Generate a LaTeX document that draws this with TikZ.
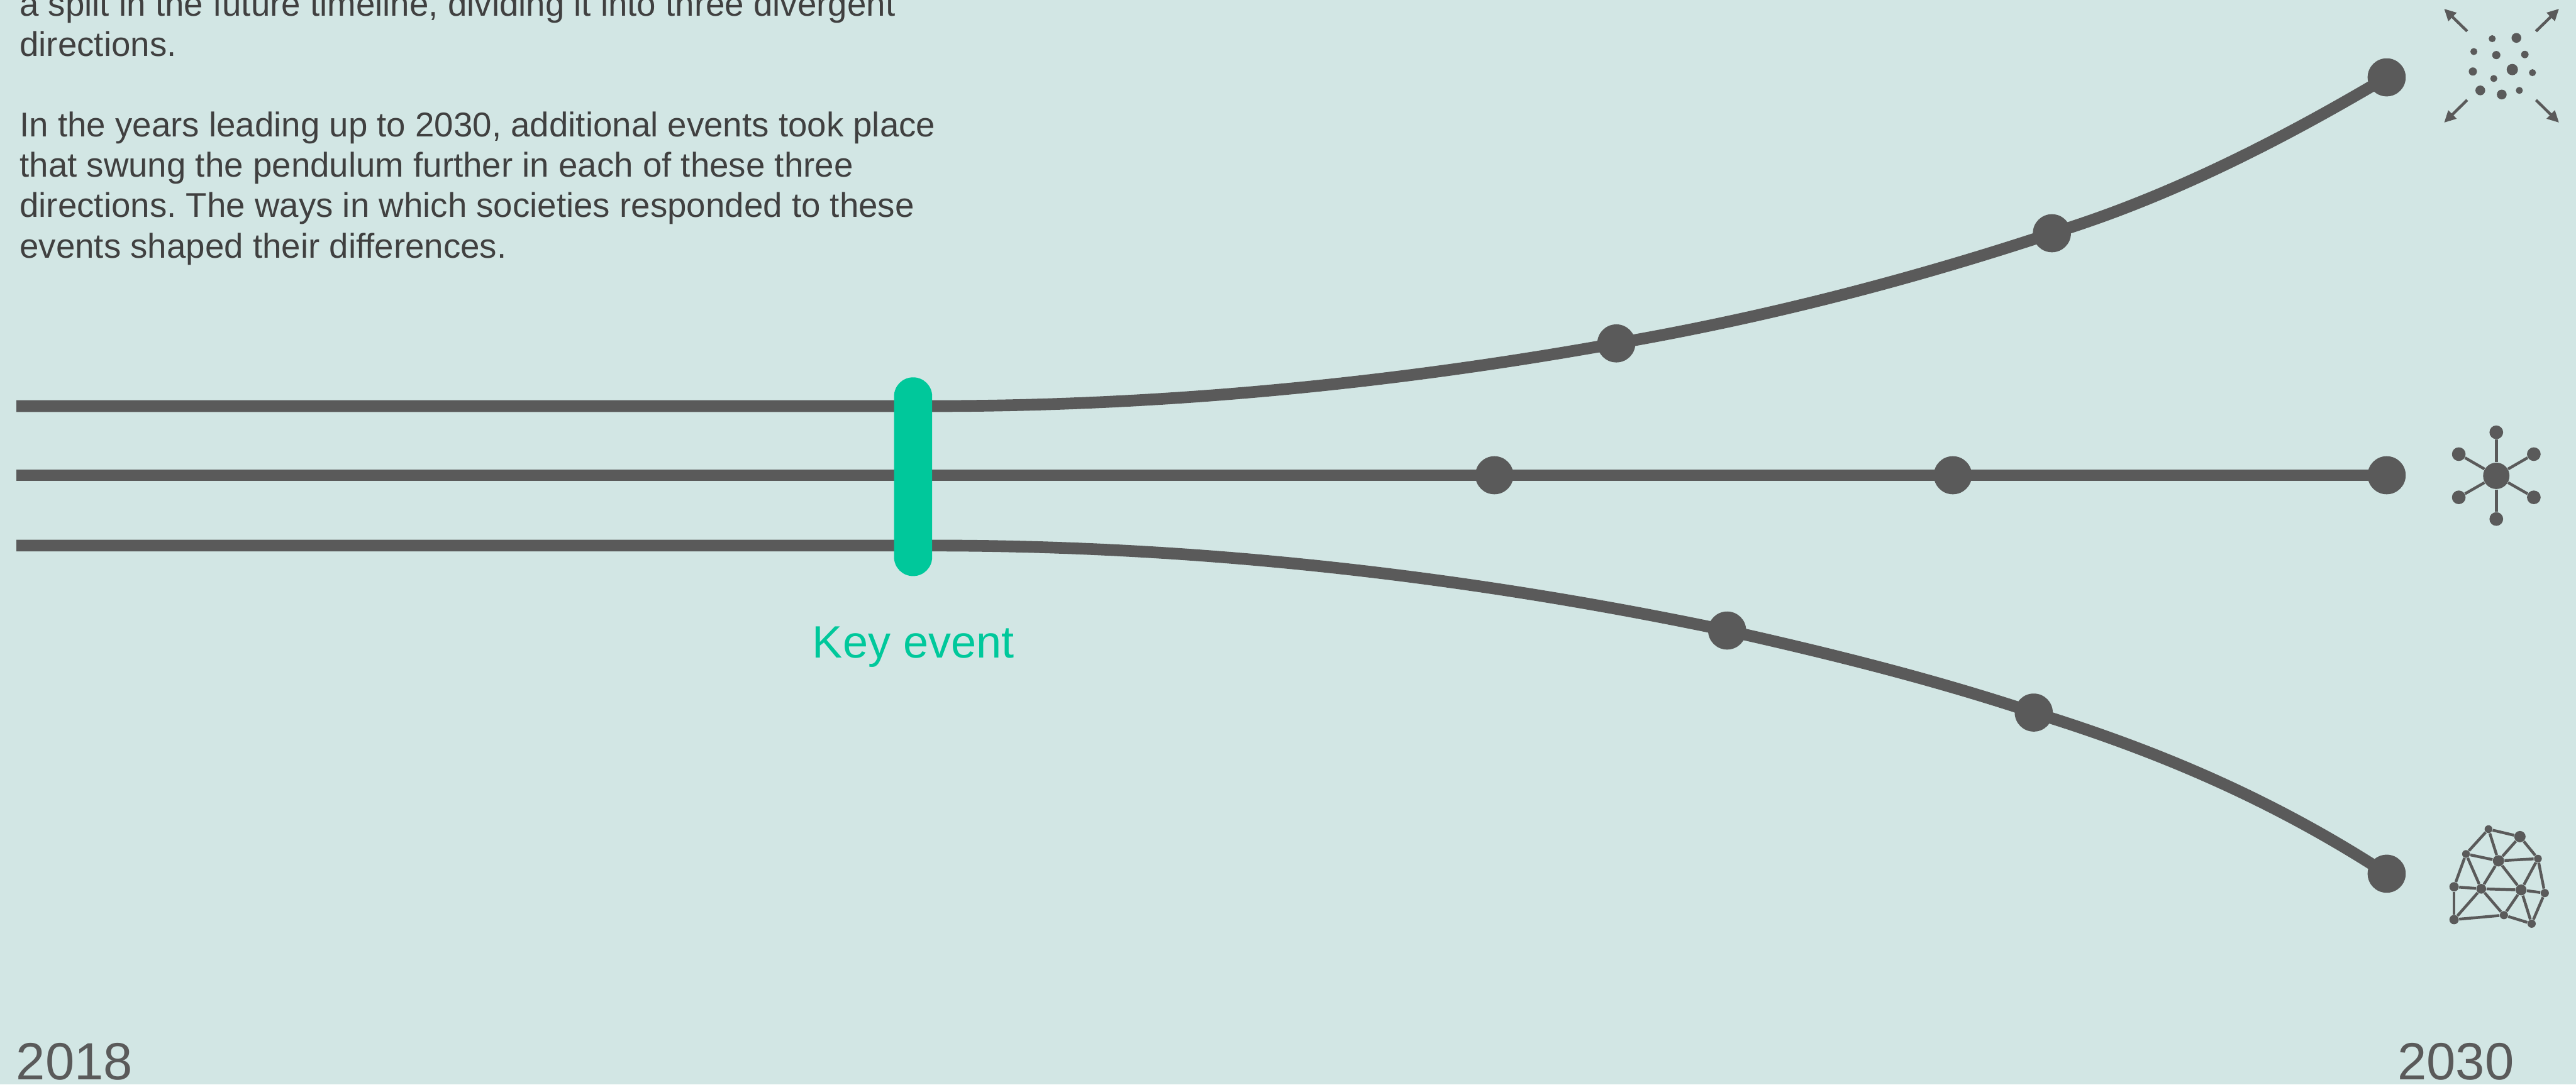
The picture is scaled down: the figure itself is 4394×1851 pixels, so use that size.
\documentclass[tikz,border=0pt]{standalone}
\usepackage{fontspec}
\setmainfont{Liberation Sans}
\usetikzlibrary{arrows.meta}
\definecolor{paper}{HTML}{D2E6E4}
\definecolor{trackgray}{HTML}{5A5A5A}
\definecolor{bodygray}{HTML}{404040}
\definecolor{eventgreen}{HTML}{00C89B}

\begin{document}
\begin{tikzpicture}[
    x=0.01cm, y=-0.01cm,
    track/.style={draw=trackgray, line width=0.2cm},
    spot/.style={circle, fill=trackgray, inner sep=0pt, minimum size=#1*0.01cm},
    thin link/.style={draw=trackgray, line width=0.048cm},
    burst/.style={thin link, -{Triangle[length=0.2cm, width=0.19cm]}},
    year/.style={anchor=base west, inner sep=0pt, text=trackgray, font=\fontsize{25.4}{30}\selectfont}
]
    \useasboundingbox (0,0) rectangle (4394,1851);
    \fill[paper] (0,0) rectangle (4394,1851);

    % text
    \node[anchor=north west, inner sep=0pt, align=left, text=bodygray, font=\fontsize{16.68}{19.56}\selectfont\frenchspacing] (intro) at (33,-16) {a split in the future timeline, dividing it into three divergent\\directions.\\[19.56pt]In the years leading up to 2030, additional events took place\\that swung the pendulum further in each of these three\\directions. The ways in which societies responded to these\\events shaped their differences.};
    \node[year] (startyear) at (27,1842) {2018};
    \node[year] (endyear) at (4089,1842) {2030};

    % start of the three tracks
    \coordinate (topstart) at (28,693);
    \coordinate (midstart) at (28,811);
    \coordinate (lowstart) at (28,931);
    \coordinate (topsplit) at (1590,693);
    \coordinate (lowsplit) at (1590,931);

    % events
    \node[spot=65] (top1) at (2757,586) {};
    \node[spot=65] (top2) at (3500,398) {};
    \node[spot=65] (top3) at (4071,132) {};
    \node[spot=65] (mid1) at (2549,811) {};
    \node[spot=65] (mid2) at (3331,811) {};
    \node[spot=65] (mid3) at (4071,811) {};
    \node[spot=65] (low1) at (2946,1076) {};
    \node[spot=65] (low2) at (3469,1216) {};
    \node[spot=65] (low3) at (4071,1491) {};

    % tracks
    \draw[track] (topstart) -- (topsplit) .. controls (1979,693) and (2368,656) .. (top1.center) .. controls (3005,543) and (3252,480) .. (top2.center) .. controls (3690,340) and (3881,245) .. (top3.center);
    \draw[track] (midstart) -- (mid1.center) -- (mid2.center) -- (mid3.center);
    \draw[track] (lowstart) -- (lowsplit) .. controls (2042,931) and (2493,981) .. (low1.center) .. controls (3120,1115) and (3294,1158) .. (low2.center) .. controls (3670,1278) and (3870,1360) .. (low3.center);

    % key event
    \node[rectangle, fill=eventgreen, rounded corners=0.325cm, inner sep=0pt, minimum width=0.65cm, minimum height=3.39cm] (keybar) at (1557.5,813.5) {};
    \node[anchor=base, inner sep=0pt, text=eventgreen, font=\fontsize{22}{26}\selectfont] (keylabel) at (1558,1123) {Key event};

    % scattered icon
    \node[spot=12] (sa) at (4251,66) {};
    \node[spot=16.7] (sb) at (4292.3,64.7) {};
    \node[spot=12] (sc) at (4219.7,88) {};
    \node[spot=14] (sd) at (4258,94) {};
    \node[spot=12.7] (se) at (4306.7,93) {};
    \node[spot=14] (sf) at (4218,122) {};
    \node[spot=19.3] (sg) at (4285.3,118.7) {};
    \node[spot=12] (sh) at (4319.7,124) {};
    \node[spot=12] (si) at (4253.7,134) {};
    \node[spot=16.7] (sj) at (4230.7,154.3) {};
    \node[spot=16.7] (sk) at (4267.3,161.3) {};
    \node[spot=12] (sl) at (4297.3,154.3) {};
    \coordinate (nwfrom) at (4208.3,53.3);
    \coordinate (nwto) at (4169,15);
    \coordinate (nefrom) at (4325.7,53.3);
    \coordinate (neto) at (4365,15);
    \coordinate (swfrom) at (4208.3,170.7);
    \coordinate (swto) at (4169,209.3);
    \coordinate (sefrom) at (4325.7,170.7);
    \coordinate (seto) at (4365,209.3);
    \draw[burst] (nwfrom) -- (nwto);
    \draw[burst] (nefrom) -- (neto);
    \draw[burst] (swfrom) -- (swto);
    \draw[burst] (sefrom) -- (seto);

    % star icon
    \node[spot=45] (hub) at (4258,812) {};
    \node[spot=23.3] (ra) at (4258,737.7) {};
    \node[spot=23.3] (rb) at (4194,775) {};
    \node[spot=23.3] (rc) at (4322,775) {};
    \node[spot=23.3] (rd) at (4194,848.7) {};
    \node[spot=23.3] (re) at (4322,848.7) {};
    \node[spot=23.3] (rf) at (4258,885.7) {};
    \draw[thin link] (hub) -- (ra);
    \draw[thin link] (hub) -- (rb);
    \draw[thin link] (hub) -- (rc);
    \draw[thin link] (hub) -- (rd);
    \draw[thin link] (hub) -- (re);
    \draw[thin link] (hub) -- (rf);

    % mesh icon
    \node[spot=13.3] (ma) at (4244.7,1415) {};
    \node[spot=19.3] (mb) at (4298.3,1427.7) {};
    \node[spot=13.3] (mc) at (4206.3,1457.3) {};
    \node[spot=19.3] (md) at (4261.7,1469) {};
    \node[spot=13.3] (me) at (4329,1465.3) {};
    \node[spot=16] (mf) at (4186,1513.3) {};
    \node[spot=16.7] (mg) at (4232.3,1516.7) {};
    \node[spot=18.7] (mh) at (4300.3,1518.7) {};
    \node[spot=14] (mi) at (4340.7,1524) {};
    \node[spot=16] (mj) at (4186,1569.3) {};
    \node[spot=14] (mk) at (4271,1561.7) {};
    \node[spot=14] (ml) at (4318.3,1576.3) {};
    \draw[thin link] (ma) -- (mb);
    \draw[thin link] (ma) -- (mc);
    \draw[thin link] (ma) -- (md);
    \draw[thin link] (mb) -- (md);
    \draw[thin link] (mb) -- (me);
    \draw[thin link] (mc) -- (md);
    \draw[thin link] (mc) -- (mf);
    \draw[thin link] (mc) -- (mg);
    \draw[thin link] (md) -- (me);
    \draw[thin link] (md) -- (mg);
    \draw[thin link] (md) -- (mh);
    \draw[thin link] (me) -- (mh);
    \draw[thin link] (me) -- (mi);
    \draw[thin link] (mf) -- (mg);
    \draw[thin link] (mf) -- (mj);
    \draw[thin link] (mg) -- (mh);
    \draw[thin link] (mg) -- (mj);
    \draw[thin link] (mg) -- (mk);
    \draw[thin link] (mh) -- (mi);
    \draw[thin link] (mh) -- (mk);
    \draw[thin link] (mh) -- (ml);
    \draw[thin link] (mi) -- (ml);
    \draw[thin link] (mj) -- (mk);
    \draw[thin link] (mk) -- (ml);
\end{tikzpicture}
\end{document}
